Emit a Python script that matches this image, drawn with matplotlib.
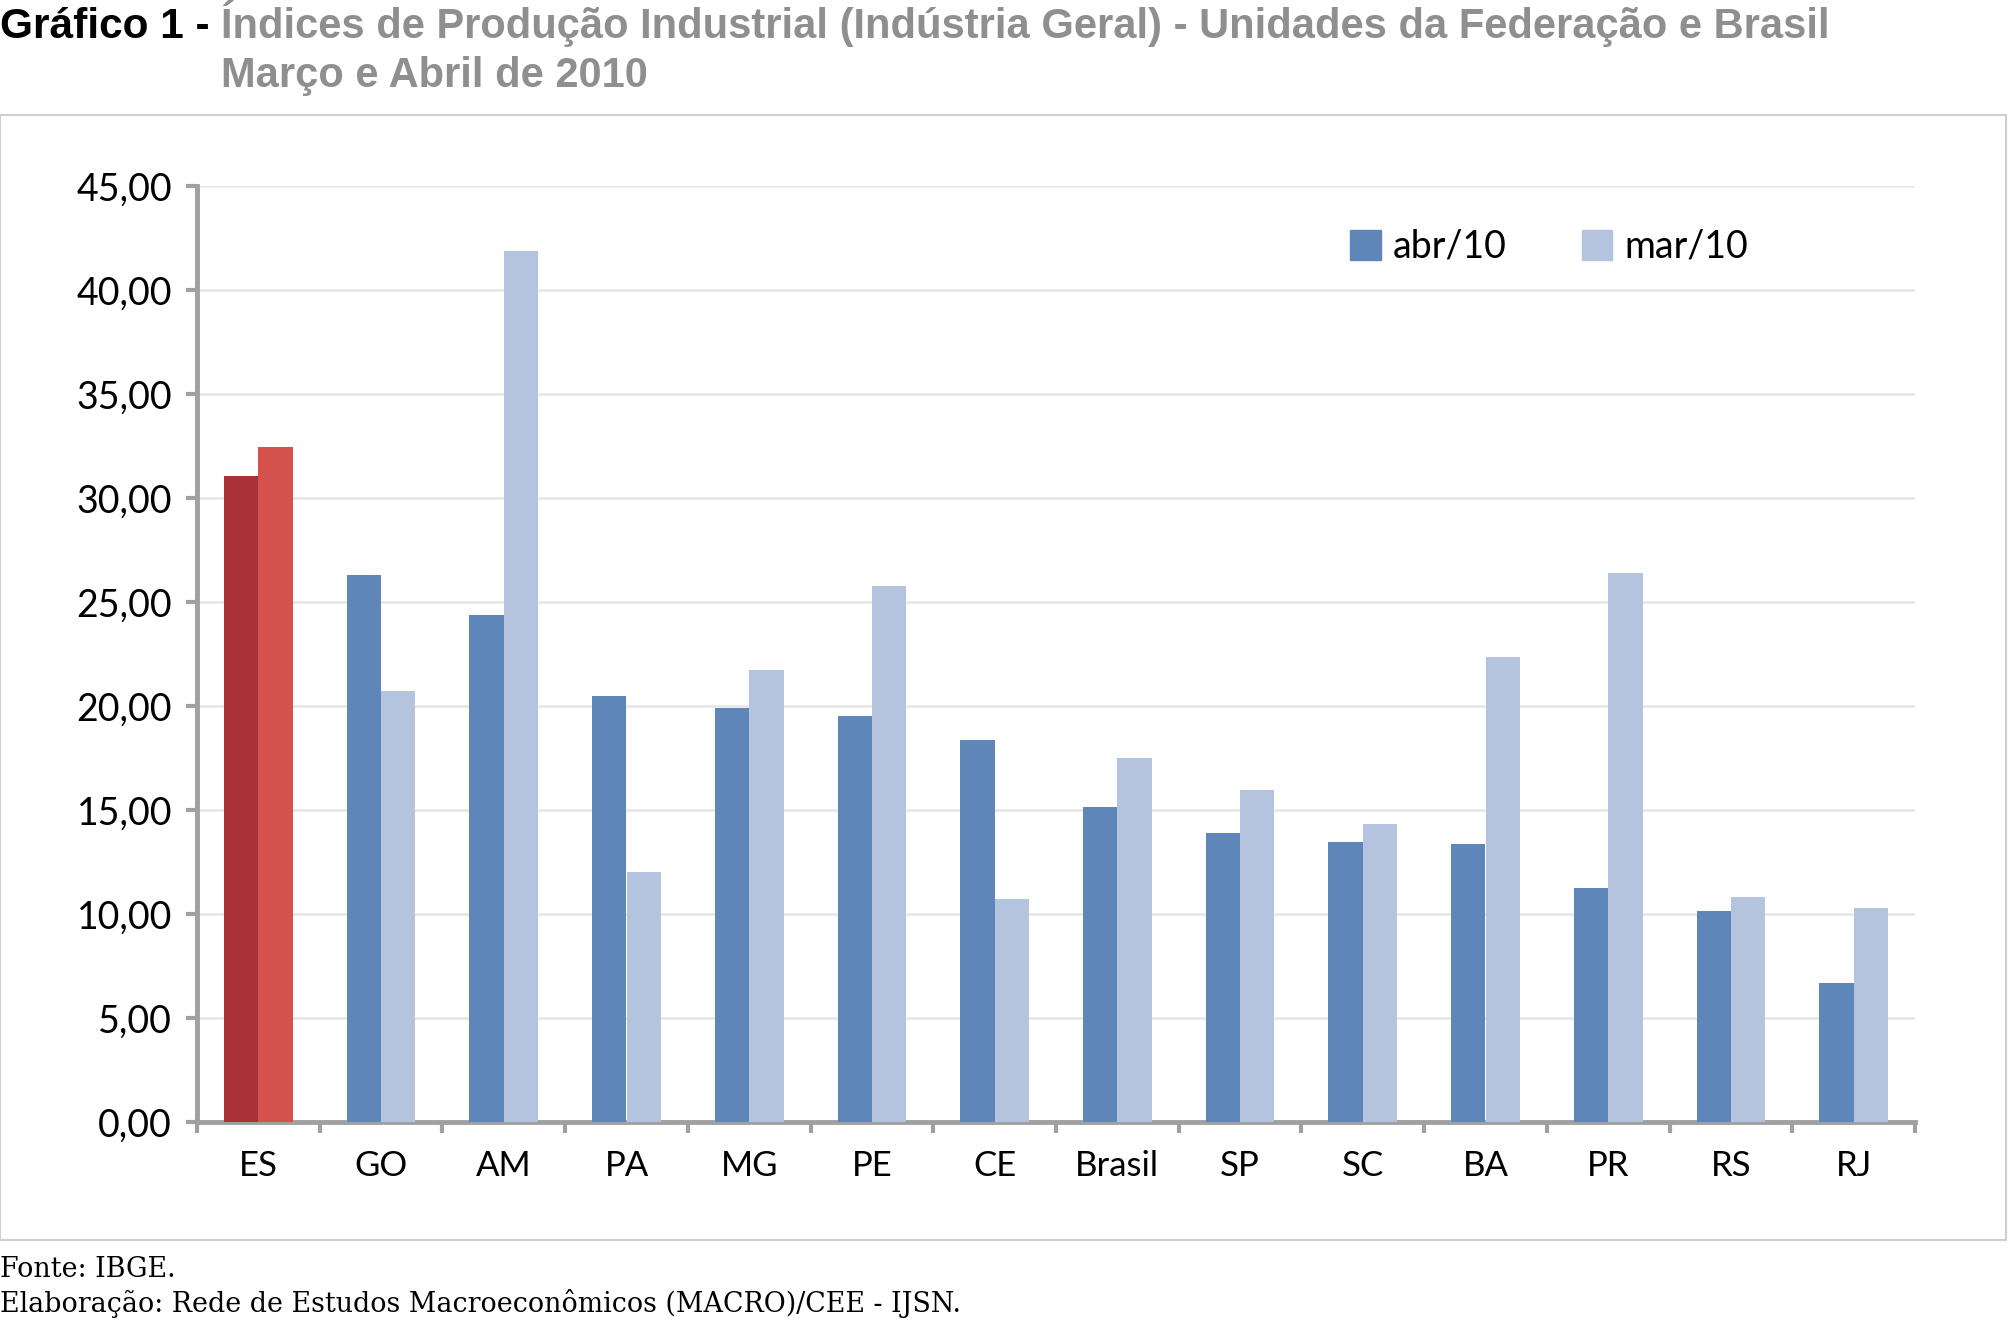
import numpy as np
import matplotlib.pyplot as plt
from matplotlib.patches import Rectangle

# data
estados = ["ES", "GO", "AM", "PA", "MG", "PE", "CE", "Brasil", "SP", "SC", "BA", "PR", "RS", "RJ"]
abr_10 = [31.04, 26.32, 24.37, 20.47, 19.92, 19.50, 18.38, 15.16, 13.89, 13.48, 13.35, 11.25, 10.13, 6.68]
mar_10 = [32.44, 20.74, 41.86, 12.00, 21.73, 25.75, 10.74, 17.50, 15.98, 14.33, 22.36, 26.39, 10.83, 10.29]
y_ticks = [0, 5, 10, 15, 20, 25, 30, 35, 40, 45]

cor_abr = "#5f86b9"
cor_mar = "#b4c4de"
cor_es_abr = "#a93237"
cor_es_mar = "#d3534c"
cinza_eixo = "#a0a0a0"

fig = plt.figure(figsize=(20.09, 13.2), dpi=100)

# moldura do grafico
fig.patches.append(Rectangle((0.0, 1 - 1240 / 1320), 2006 / 2009, 1125 / 1320,
                             transform=fig.transFigure, fill=False,
                             edgecolor="#cfcfcf", linewidth=1.5))

ax = fig.add_axes([197 / 2009, 1 - 1122 / 1320, 1718 / 2009, (1122 - 186) / 1320])

x = np.arange(len(estados))
w = 0.28
cores_abr = [cor_es_abr if e == "ES" else cor_abr for e in estados]
cores_mar = [cor_es_mar if e == "ES" else cor_mar for e in estados]
ax.bar(x - w / 2, abr_10, width=w, color=cores_abr, label="abr/10", zorder=3)
ax.bar(x + w / 2, mar_10, width=w, color=cores_mar, label="mar/10", zorder=3)

ax.set_xlim(-0.5, len(estados) - 0.5)
ax.set_ylim(0, 45)
ax.set_yticks(y_ticks)
ax.set_yticklabels(["{:.2f}".format(v).replace(".", ",") for v in y_ticks],
                   fontsize=27, family="Lato")
ax.yaxis.grid(True, color="#e6e6e6", linewidth=1.8, zorder=0)

# categorias no meio, tracinhos nas divisas
ax.set_xticks(np.arange(-0.5, len(estados), 1.0))
ax.set_xticklabels([])
ax.set_xticks(x, minor=True)
ax.set_xticklabels(estados, minor=True, fontsize=25, family="Lato")
ax.tick_params(axis="x", which="minor", length=0, pad=20)
ax.tick_params(axis="x", which="major", length=8, width=3, color=cinza_eixo, direction="out")
ax.tick_params(axis="y", length=8, width=3, color=cinza_eixo, direction="out", pad=10)

for s in ["top", "right"]:
    ax.spines[s].set_visible(False)
for s in ["left", "bottom"]:
    ax.spines[s].set_color(cinza_eixo)
    ax.spines[s].set_linewidth(3.5)

leg_h = [Rectangle((0, 0), 1, 1, color=cor_abr), Rectangle((0, 0), 1, 1, color=cor_mar)]
fig.legend(leg_h, ["abr/10", "mar/10"], loc="center", bbox_to_anchor=(0.771, 0.813),
           ncol=2, frameon=False, prop={"family": "Lato", "size": 27},
           handlelength=0.82, handleheight=0.85, handletextpad=0.31, columnspacing=2.0)

# titulo
fonte_tit = ["Liberation Sans Narrow", "Liberation Sans"]
t1 = fig.text(0.0, 1 - 38 / 1320, "Gráfico 1 - ", fontsize=30.5, fontweight="bold",
              family=fonte_tit, color="black", va="baseline")
fig.canvas.draw()
bb = t1.get_window_extent()
x0 = bb.x1 / fig.bbox.width
fig.text(x0, 1 - 38 / 1320,
         "Índices de Produção Industrial (Indústria Geral) - Unidades da Federação e Brasil",
         fontsize=30, fontweight="bold", family=fonte_tit, color="#8f8f8f", va="baseline")
fig.text(x0, 1 - 87 / 1320, "Março e Abril de 2010",
         fontsize=30, fontweight="bold", family=fonte_tit, color="#8f8f8f", va="baseline")

# rodape
fig.text(0.0, 1 - 1277 / 1320, "Fonte: IBGE.", fontsize=19.4, family="DejaVu Serif",
         va="baseline")
fig.text(0.0, 1 - 1312 / 1320,
         "Elaboração: Rede de Estudos Macroeconômicos (MACRO)/CEE - IJSN.",
         fontsize=19.4, family="DejaVu Serif", va="baseline")

fig.savefig("out.png", dpi=100)
